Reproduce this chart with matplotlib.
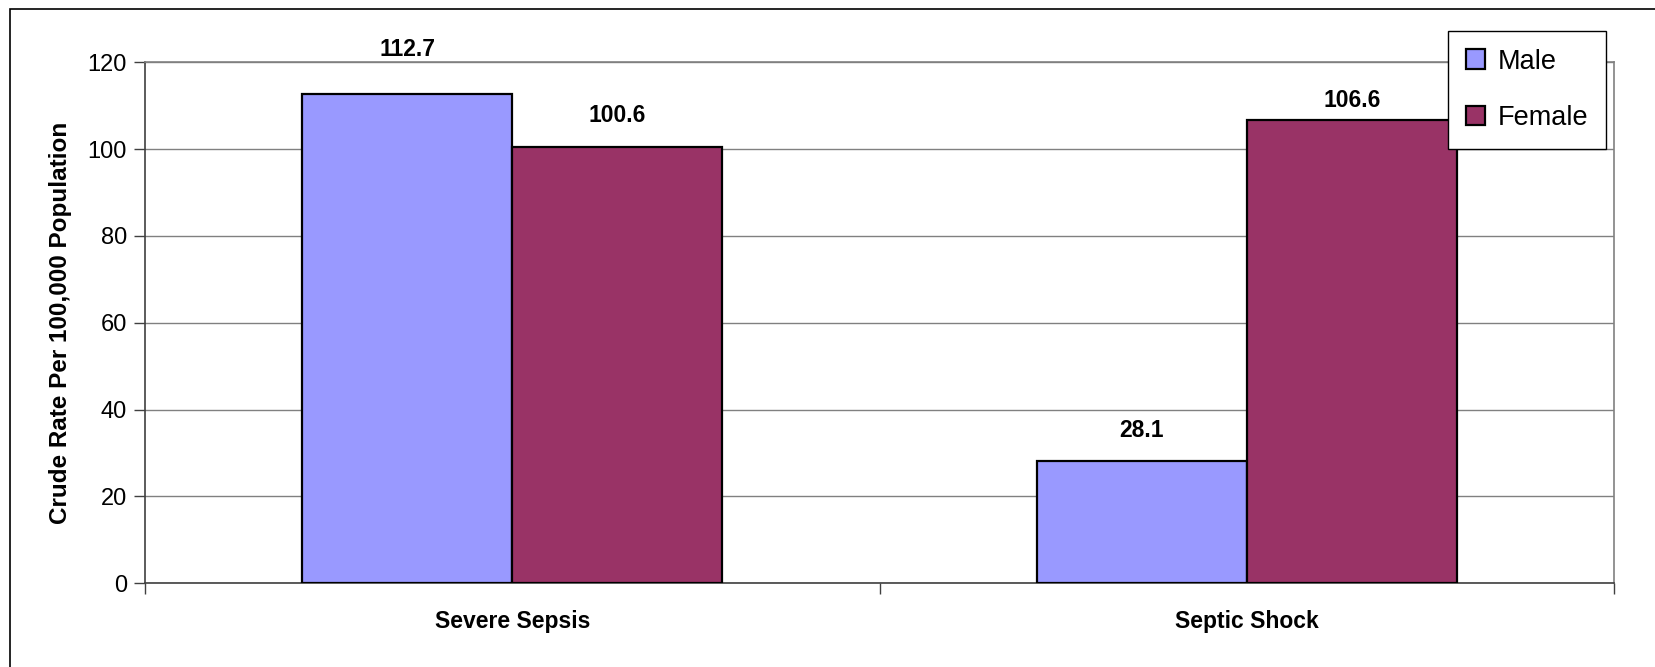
import matplotlib
matplotlib.use("Agg")
import matplotlib.pyplot as plt
import numpy as np
from matplotlib.patches import Rectangle

plt.rcParams['font.family'] = ['Liberation Sans', 'DejaVu Sans']

# Crude rates per 100,000 population
categories = ["Severe Sepsis", "Septic Shock"]
series_names = ["Male", "Female"]
male_rates = [112.7, 28.1]
female_rates = [100.6, 106.6]
y_ticks = [0, 20, 40, 60, 80, 100, 120]

colors = ["#9999FF", "#993366"]
# vertical gap (points) between each bar top and its value label
label_pads = [[23.5, 14.0], [14.0, 6.0]]

fig = plt.figure(figsize=(16.56, 6.67), dpi=100)
fig.patch.set_facecolor("white")

# outer chart-area frame (only the top and left edges fall inside the canvas)
fig.patches.append(Rectangle((10 / 1656, -0.5), 2.0, 1.5 - 9 / 667,
                             transform=fig.transFigure, fill=False,
                             edgecolor="#000000", linewidth=1.2, zorder=0))

ax = fig.add_axes([145 / 1656, 1 - 583.3 / 667, (1614 - 145) / 1656, (583.3 - 62.3) / 667])

x = np.arange(len(categories))
bar_w = 0.286
values = [male_rates, female_rates]
for i, (name, vals) in enumerate(zip(series_names, values)):
    xs = x + (i - 0.5) * bar_w
    bars = ax.bar(xs, vals, width=bar_w, color=colors[i], edgecolor="black",
                  linewidth=1.6, label=name, zorder=3)
    for b, v, pad in zip(bars, vals, label_pads[i]):
        ax.annotate(f"{v:.1f}", (b.get_x() + b.get_width() / 2, v),
                    xytext=(0, pad), textcoords="offset points",
                    ha="center", va="bottom", fontsize=16.5, fontweight="bold",
                    annotation_clip=False)

ax.set_xlim(-0.5, len(categories) - 0.5)
ax.set_ylim(0, 120)
ax.set_yticks(y_ticks)
ax.set_yticklabels([str(t) for t in y_ticks], fontsize=17)
ax.yaxis.grid(True, color="#808080", linewidth=1.0, zorder=0)
ax.set_axisbelow(True)

# category labels centred, ticks at category boundaries
ax.set_xticks(x)
ax.set_xticklabels(categories, fontsize=16.5, fontweight="bold")
ax.tick_params(axis="x", which="major", length=0, pad=19)
ax.set_xticks(np.arange(-0.5, len(categories), 1.0), minor=True)
ax.tick_params(axis="x", which="minor", length=8, width=1.0, color="#404040", direction="out")
ax.tick_params(axis="y", length=8, width=1.0, color="#404040", direction="out", pad=5)

for side in ["top", "right"]:
    ax.spines[side].set_color("#808080")
    ax.spines[side].set_linewidth(1.2)
for side in ["left", "bottom"]:
    ax.spines[side].set_color("#404040")
    ax.spines[side].set_linewidth(1.2)

ax.set_ylabel("Crude Rate Per 100,000 Population", fontsize=17.5, fontweight="bold", labelpad=11)

leg = fig.legend(loc="upper left", bbox_to_anchor=(1448 / 1656, 1 - 31 / 667),
                 fontsize=19.5, frameon=True, fancybox=False, shadow=False,
                 edgecolor="black", framealpha=1, borderpad=0.65,
                 handlelength=0.72, handleheight=0.72, handletextpad=0.45,
                 labelspacing=1.13, borderaxespad=0)
leg.get_frame().set_linewidth(1.0)

fig.savefig("out.png", dpi=100, facecolor="white")
